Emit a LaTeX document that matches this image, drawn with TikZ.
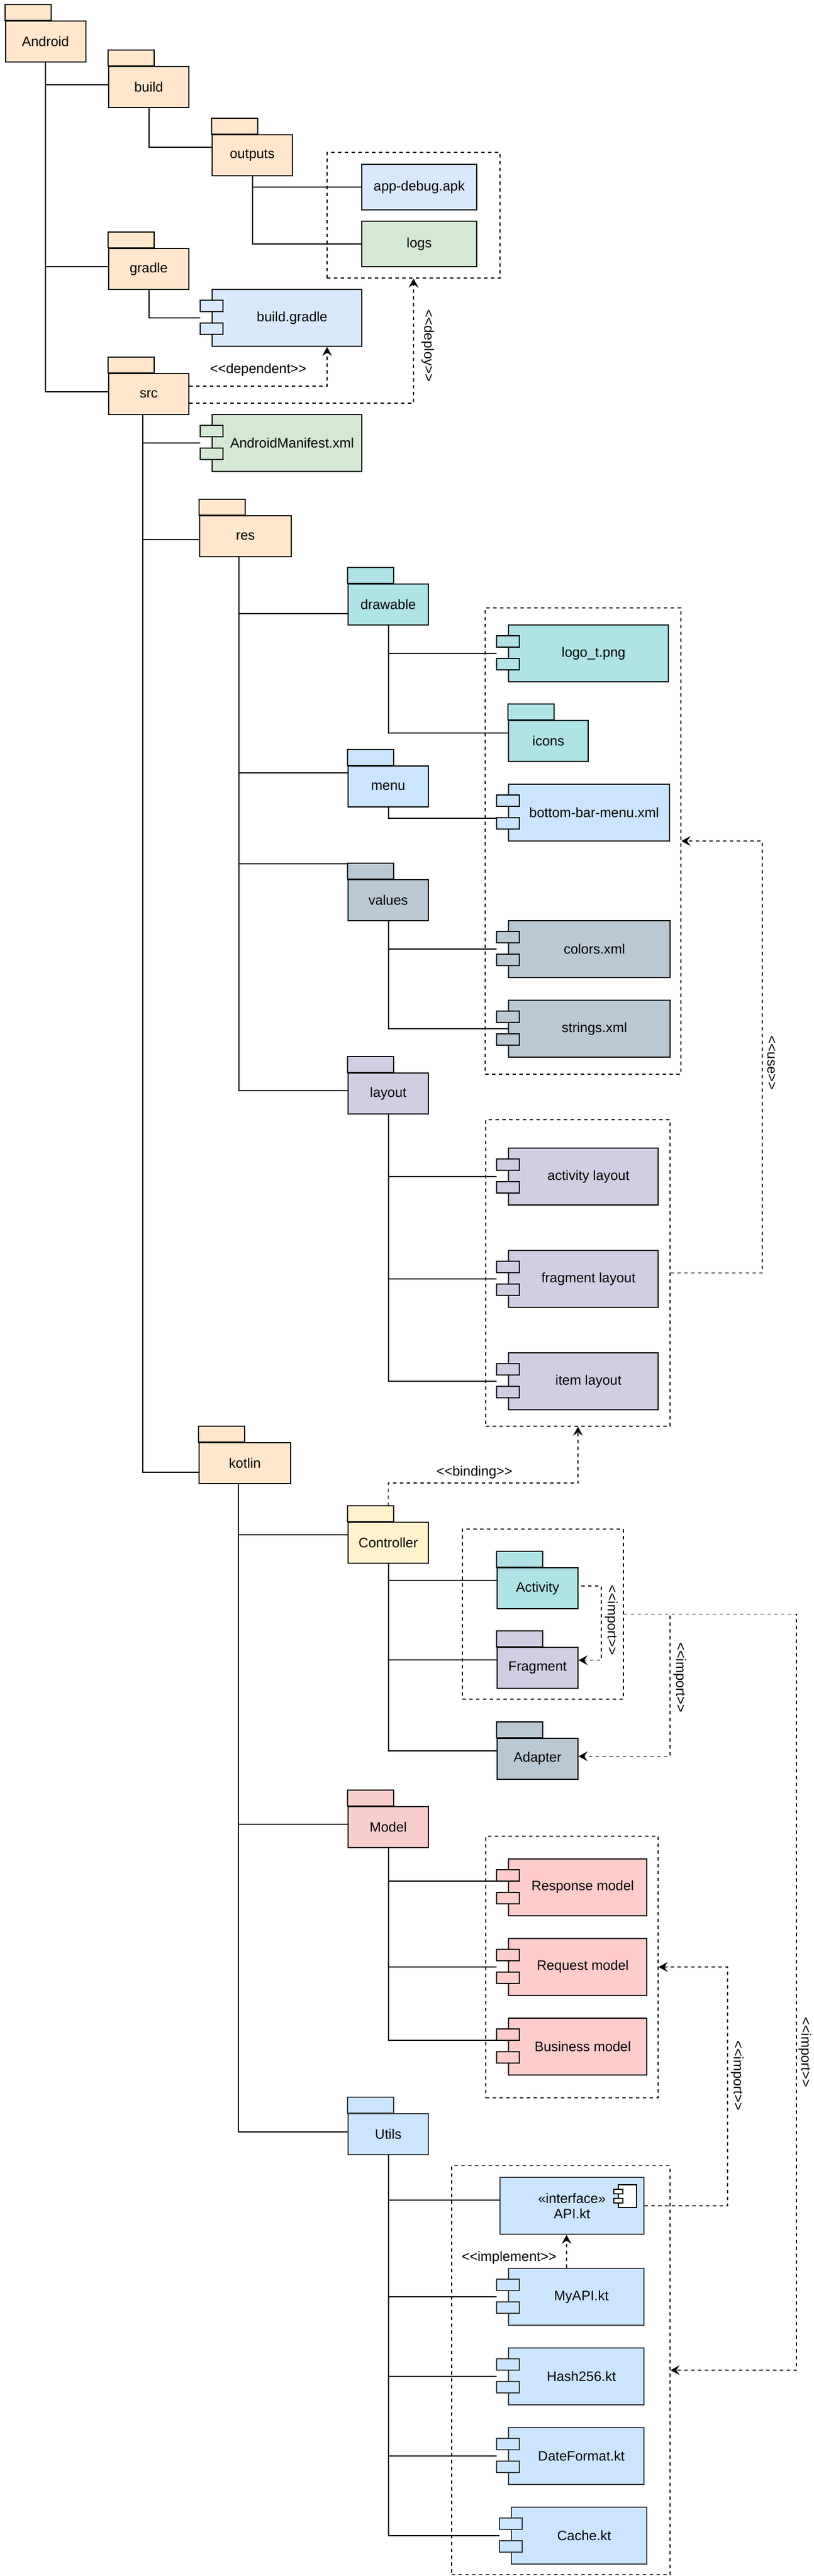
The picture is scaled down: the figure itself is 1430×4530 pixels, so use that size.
\documentclass[tikz,border=0pt]{standalone}
\usepackage{fontspec}
\newfontfamily\lsans{Liberation Sans}
\usetikzlibrary{arrows.meta}
\definecolor{corange}{HTML}{FFE6CC}
\definecolor{cblue}{HTML}{DAE8FC}
\definecolor{cgreen}{HTML}{D5E8D4}
\definecolor{cteal}{HTML}{B0E3E6}
\definecolor{clblue}{HTML}{CCE5FF}
\definecolor{cgrey}{HTML}{BAC8D3}
\definecolor{cpurple}{HTML}{D0CEE2}
\definecolor{cyellow}{HTML}{FFF2CC}
\definecolor{cred}{HTML}{F8CECC}
\definecolor{cpink}{HTML}{FFCCCC}
\definecolor{cdark}{HTML}{36393D}
\newcommand\stl{<\kern0pt<}
\newcommand\stg{>\kern0pt>}
\newcommand\ftab[3][black]{\draw[lw,draw=#1,fill=#3] (#2.north west) rectangle ++(40.5pt,14pt);}
\newcommand\ctabs[3][black]{%
  \draw[lw,draw=#1,fill=#3] ([shift={(-10pt,-10pt)}]#2.north west) rectangle ++(20pt,-10pt);
  \draw[lw,draw=#1,fill=#3] ([shift={(-10pt,-30pt)}]#2.north west) rectangle ++(20pt,-10pt);}
\begin{document}
\begin{tikzpicture}[x=0.5pt,y=-0.5pt,
  every node/.style={font=\lsans\fontsize{12}{14}\selectfont, inner sep=0pt},
  lw/.style={line width=1pt},
  folder/.style={draw, lw, minimum width=70.5pt, minimum height=36pt},
  comp/.style={draw, lw, minimum height=50pt},
  plainbox/.style={draw, lw, minimum width=101pt, minimum height=40pt},
  grp/.style={draw, line width=0.75pt, dash pattern=on 3pt off 3pt},
  tree/.style={lw},
  dep/.style={line width=0.75pt, dash pattern=on 3pt off 3pt, -{Stealth[length=8pt,width=8.5pt,inset=3pt]}},
  lbl/.style={fill=none},
  vlbl/.style={rotate=-90}]
\useasboundingbox (0,0) rectangle (1430,4530);
% groups
\node[grp, minimum width=152pt, minimum height=110.5pt] (g1) at (727,378.5) {};
\node[grp, minimum width=172pt, minimum height=410pt] (g2) at (1025,1479) {};
\node[grp, minimum width=162pt, minimum height=269.5pt] (g3) at (1016,2238.5) {};
\node[grp, minimum width=141.5pt, minimum height=149.5pt] (g4) at (954.5,2838.5) {};
\node[grp, minimum width=151.5pt, minimum height=230pt] (g5) at (1005.5,3459) {};
\node[grp, minimum width=192pt, minimum height=359.5pt] (g6) at (986,4168) {};
% nodes
\node[folder, fill=corange] (android) at (80,73) {Android};
\node[folder, fill=corange] (build) at (261.5,153) {build};
\node[folder, fill=corange] (outputs) at (443.5,273) {outputs};
\node[folder, fill=corange] (gradle) at (261.5,473) {gradle};
\node[folder, fill=corange] (src) at (261.5,693) {src};
\node[plainbox, fill=cblue] (appdebug) at (737,329) {app-debug.apk};
\node[plainbox, fill=cgreen] (logs) at (737,429) {logs};
\node[comp, minimum width=131.5pt, fill=cblue] (buildgradle) at (504.5,559) {\hspace*{9pt}build.gradle};
\node[comp, minimum width=131.5pt, fill=cgreen] (manifest) at (504.5,779) {\hspace*{9pt}AndroidManifest.xml};
\node[folder, minimum width=80.5pt, fill=corange] (res) at (431.5,943) {res};
\node[folder, fill=cteal] (drawable) at (682.5,1063) {drawable};
\node[comp, minimum width=140.5pt, fill=cteal] (logo) at (1034.5,1149) {\hspace*{9pt}logo\_t.png};
\node[folder, minimum width=70pt, fill=cteal] (icons) at (964,1303) {icons};
\node[folder, fill=clblue] (menu) at (682.5,1383) {menu};
\node[comp, minimum width=141.5pt, fill=clblue] (bbmenu) at (1035.5,1428.5) {\hspace*{9pt}bottom-bar-menu.xml};
\node[folder, fill=cgrey] (values) at (682.5,1583) {values};
\node[comp, minimum width=142pt, fill=cgrey] (colors) at (1036,1669) {\hspace*{9pt}colors.xml};
\node[comp, minimum width=142pt, fill=cgrey] (strings) at (1036,1809) {\hspace*{9pt}strings.xml};
\node[folder, fill=cpurple] (layout) at (682.5,1923) {layout};
\node[comp, minimum width=131.5pt, fill=cpurple] (actlayout) at (1025.5,2069) {\hspace*{9pt}activity layout};
\node[comp, minimum width=131.5pt, fill=cpurple] (fraglayout) at (1025.5,2249) {\hspace*{9pt}fragment layout};
\node[comp, minimum width=131.5pt, fill=cpurple] (itemlayout) at (1025.5,2429) {\hspace*{9pt}item layout};
\node[folder, minimum width=80.5pt, fill=corange] (kotlin) at (430.5,2573) {kotlin};
\node[folder, fill=cyellow] (controller) at (682.5,2713) {Controller};
\node[folder, minimum width=71pt, fill=cteal] (activity) at (945,2793) {Activity};
\node[folder, minimum width=71pt, fill=cpurple] (fragment) at (945,2932.5) {Fragment};
\node[folder, minimum width=71pt, fill=cgrey] (adapter) at (945,3092.5) {Adapter};
\node[folder, fill=cred] (model) at (682.5,3213) {Model};
\node[comp, minimum width=121.5pt, fill=cpink] (response) at (1015.5,3318.5) {\hspace*{9pt}Response model};
\node[comp, minimum width=121.5pt, fill=cpink] (request) at (1015.5,3458.5) {\hspace*{9pt}Request model};
\node[comp, minimum width=121.5pt, fill=cpink] (business) at (1015.5,3598.5) {\hspace*{9pt}Business model};
\node[folder, draw=cdark, fill=clblue] (utils) at (682.5,3753) {Utils};
\node[draw=cdark, lw, fill=clblue, minimum width=126.5pt, minimum height=50pt, align=center,
      font=\lsans\fontsize{12}{13.5}\selectfont] (api) at (1005.5,3879) {«interface»\\API.kt};
\node[comp, draw=cdark, minimum width=119pt, fill=clblue] (myapi) at (1013,4039) {\hspace*{9pt}MyAPI.kt};
\node[comp, draw=cdark, minimum width=119pt, fill=clblue] (hash) at (1013,4179) {\hspace*{9pt}Hash256.kt};
\node[comp, draw=cdark, minimum width=119pt, fill=clblue] (dateformat) at (1013,4318.5) {\hspace*{9pt}DateFormat.kt};
\node[comp, draw=cdark, minimum width=119pt, fill=clblue] (cache) at (1018,4459) {\hspace*{9pt}Cache.kt};
% folder tabs
\ftab{android}{corange}
\ftab{build}{corange}
\ftab{outputs}{corange}
\ftab{gradle}{corange}
\ftab{src}{corange}
\ftab{res}{corange}
\ftab{drawable}{cteal}
\ftab{icons}{cteal}
\ftab{menu}{clblue}
\ftab{values}{cgrey}
\ftab{layout}{cpurple}
\ftab{kotlin}{corange}
\ftab{controller}{cyellow}
\ftab{activity}{cteal}
\ftab{fragment}{cpurple}
\ftab{adapter}{cgrey}
\ftab{model}{cred}
\ftab[cdark]{utils}{clblue}
% component tabs
\ctabs{buildgradle}{cblue}
\ctabs{manifest}{cgreen}
\ctabs{logo}{cteal}
\ctabs{bbmenu}{clblue}
\ctabs{colors}{cgrey}
\ctabs{strings}{cgrey}
\ctabs{actlayout}{cpurple}
\ctabs{fraglayout}{cpurple}
\ctabs{itemlayout}{cpurple}
\ctabs{response}{cpink}
\ctabs{request}{cpink}
\ctabs{business}{cpink}
\ctabs[cdark]{myapi}{clblue}
\ctabs[cdark]{hash}{clblue}
\ctabs[cdark]{dateformat}{clblue}
\ctabs[cdark]{cache}{clblue}
% component icon in API.kt
\draw[lw, fill=white] ([shift={(-23pt,-7pt)}]api.north east) rectangle ([shift={(-7pt,-27pt)}]api.north east);
\draw[lw, fill=white] ([shift={(-27pt,-11pt)}]api.north east) rectangle ([shift={(-19pt,-15pt)}]api.north east);
\draw[lw, fill=white] ([shift={(-27pt,-19pt)}]api.north east) rectangle ([shift={(-19pt,-23pt)}]api.north east);
% tree
\draw[tree] (android.south) |- ([yshift=2pt]build.west);
\draw[tree] (android.south) |- ([yshift=2pt]gradle.west);
\draw[tree] (android.south) |- ([yshift=2pt]src.west);
\draw[tree] (build.south) |- ([yshift=7pt]outputs.west);
\draw[tree] (outputs.south) |- (appdebug.west);
\draw[tree] (outputs.south) |- (logs.west);
\draw[tree] (gradle.south) |- ([xshift=-10pt]buildgradle.west);
\draw[tree] ([xshift=-5.25pt]src.south) |- ([xshift=-10pt]manifest.west);
\draw[tree] ([xshift=-5.25pt]src.south) |- ([yshift=-3pt]res.west);
\draw[tree] ([xshift=-5.25pt]src.south) |- ([yshift=-8pt]kotlin.west);
\draw[tree] ([xshift=-5.75pt]res.south) |- ([yshift=-8pt]drawable.west);
\draw[tree] ([xshift=-5.75pt]res.south) |- ([yshift=12pt]menu.west);
\draw[tree] ([xshift=-5.75pt]res.south) |- ([yshift=32pt]values.west);
\draw[tree] ([xshift=-5.75pt]res.south) |- ([yshift=2.5pt]layout.west);
\draw[tree] (drawable.south) |- ([xshift=-10pt]logo.west);
\draw[tree] (drawable.south) |- ([yshift=7pt]icons.west);
\draw[tree] (menu.south) |- ([shift={(-10pt,-5.25pt)}]bbmenu.west);
\draw[tree] (values.south) |- ([xshift=-10pt]colors.west);
\draw[tree] (values.south) |- (strings.west);
\draw[tree] (layout.south) |- ([xshift=-10pt]actlayout.west);
\draw[tree] (layout.south) |- ([xshift=-10pt]fraglayout.west);
\draw[tree] (layout.south) |- ([xshift=-10pt]itemlayout.west);
\draw[tree] ([xshift=-5.75pt]kotlin.south) |- ([yshift=7pt]controller.west);
\draw[tree] ([xshift=-5.75pt]kotlin.south) |- ([yshift=2.5pt]model.west);
\draw[tree] ([xshift=-5.75pt]kotlin.south) |- ([yshift=2pt]utils.west);
\draw[tree] (controller.south) |- ([yshift=7pt]activity.west);
\draw[tree] (controller.south) |- ([yshift=6.75pt]fragment.west);
\draw[tree] (controller.south) |- ([yshift=6.75pt]adapter.west);
\draw[tree] (model.south) |- ([shift={(-10pt,5.25pt)}]response.west);
\draw[tree] (model.south) |- ([xshift=-10pt]request.west);
\draw[tree] (model.south) |- ([shift={(-10pt,5.25pt)}]business.west);
\draw[tree] (utils.south) |- ([yshift=5pt]api.west);
\draw[tree] (utils.south) |- ([xshift=-10pt]myapi.west);
\draw[tree] (utils.south) |- ([xshift=-10pt]hash.west);
\draw[tree] (utils.south) |- ([xshift=-10pt]dateformat.west);
\draw[tree] (utils.south) |- ([xshift=-10pt]cache.west);
% dependencies
\draw[dep] (src.east |- 0,679) -| (buildgradle.south -| 575,0);
\draw[dep] (src.east |- 0,709) -| (g1.south);
\draw[dep] (g3.east) -- (g3.east -| 1340,0) |- (g2.east);
\draw[dep] ([yshift=14pt]controller.north) -- ([yshift=34pt]controller.north) -| (g3.south);
\draw[dep] ([shift={(2.5pt,2pt)}]activity.east) -- ++(17.5pt,0pt) |- ([yshift=6.5pt]fragment.east);
\draw[dep] (g4.east) -- (g4.east -| 1178,0) |- ([yshift=2pt]adapter.east);
\draw[dep] (g4.east) -- (g4.east -| 1400,0) |- (g6.east);
\draw[dep] (api.east) -- (api.east -| 1279,0) |- (g5.east);
\draw[dep] (myapi.north -| 996,0) -- (api.south -| 996,0);
% labels
\node[lbl] (ldep) at (454,650) {\stl dependent\stg};
\node[lbl, vlbl] (ldeploy) at (752,608) {\stl deploy\stg};
\node[lbl, vlbl] (luse) at (1356,1869) {\stl use\stg};
\node[lbl] (lbind) at (834,2589) {\stl binding\stg};
\node[lbl, vlbl] (limpa) at (1074.5,2849) {\stl import\stg};
\node[lbl, vlbl] (limpb) at (1195,2950) {\stl import\stg};
\node[lbl, vlbl] (limpc) at (1415,3609) {\stl import\stg};
\node[lbl, vlbl] (limpd) at (1296,3650) {\stl import\stg};
\node[lbl] (limpl) at (895,3970) {\stl implement\stg};
\end{tikzpicture}
\end{document}
